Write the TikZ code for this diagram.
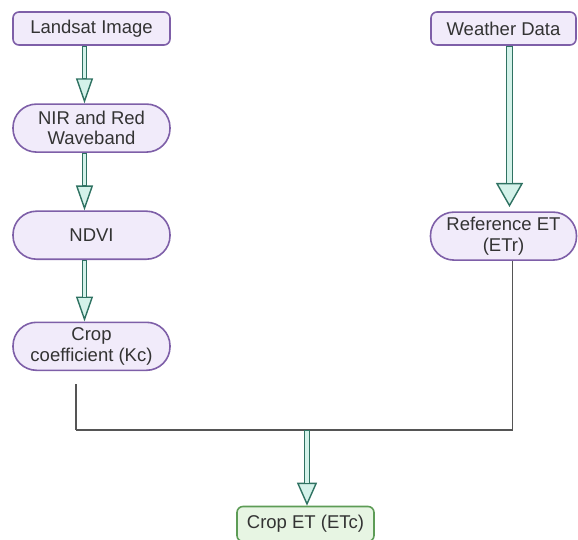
\documentclass[tikz,border=0pt]{standalone}
\usepackage{fontspec}
\setmainfont{Liberation Sans}
\usetikzlibrary{positioning,arrows.meta}

\definecolor{boxfill}{HTML}{F1EBFA}
\definecolor{boxline}{HTML}{7E5FA8}
\definecolor{endfill}{HTML}{E7F5E3}
\definecolor{endline}{HTML}{5D9C56}
\definecolor{arrowline}{HTML}{2F7262}
\definecolor{arrowfill}{HTML}{D4F2EA}
\definecolor{textgray}{HTML}{333333}
\definecolor{joingray}{HTML}{555555}

\tikzset{
  stepbox/.style={draw=boxline, fill=boxfill, line width=1.6pt, rounded corners=6pt,
    minimum height=33pt, inner sep=0pt, align=center},
  pill/.style={stepbox, rounded corners=23.5pt, minimum width=157pt, minimum height=48pt},
  endbox/.style={stepbox, draw=endline, fill=endfill},
  fatarrow/.style args={#1/#2/#3/#4}{draw=arrowline, line width=#3,
    -{Triangle[width=#1, length=#2, fill=arrowfill, line width=1.4pt]},
    postaction={draw=arrowfill, line width=#4, -, shorten <=1.4pt, shorten >=#2}},
  joinline/.style={draw=joingray, line width=1.5pt}
}

\begin{document}
\begin{tikzpicture}[x=1pt, y=-1pt, node distance=57.5pt,
  font=\fontsize{18.5}{20.5}\selectfont, text=textgray]
  \useasboundingbox (0,0) rectangle (578,540);

  % left column
  \node[stepbox, minimum width=157pt] (landsat) at (91.5,28.5) {Landsat Image};
  \node[pill, below=of landsat] (nir)  {NIR and Red\\Waveband};
  \node[pill, below=of nir]     (ndvi) {NDVI};
  \node[pill, below=61.5pt of ndvi] (kc) {Crop\\coefficient (Kc)};

  % right column
  \node[stepbox, minimum width=145pt] (weather) at (503.5,28.5) {Weather Data};
  \node[pill, minimum width=146pt, below=165.5pt of weather] (refet) {Reference ET\\(ETr)};

  % result
  \node[endbox, minimum width=137pt, minimum height=35pt] (cropet) at (305.5,524) {Crop ET (ETc)};

  \coordinate (lline) at (84.5,0);
  \coordinate (wline) at (509.5,0);
  \coordinate (wtip)  at (509.5,207);
  \coordinate (mline) at (307,0);
  \coordinate (joinL) at (76,430);
  \coordinate (joinR) at (512.5,430);

  \foreach \a/\b in {landsat/nir, nir/ndvi, ndvi/kc}
    \draw[fatarrow=17pt/25pt/5.8pt/2.8pt] (\a.south -| lline) -- (\b.north -| lline);
  \draw[fatarrow=27pt/24pt/7.4pt/4.4pt]
    (weather.south -| wline) -- (wtip);

  \draw[joinline, shorten <=13pt] (kc.south -| joinL) -- (joinL);
  \draw[joinline] (joinL) -- (joinR) -- (refet.south -| joinR);

  \draw[fatarrow=20pt/23pt/6.4pt/3.4pt]
    (joinL -| mline) -- (cropet.north -| mline);
\end{tikzpicture}
\end{document}
